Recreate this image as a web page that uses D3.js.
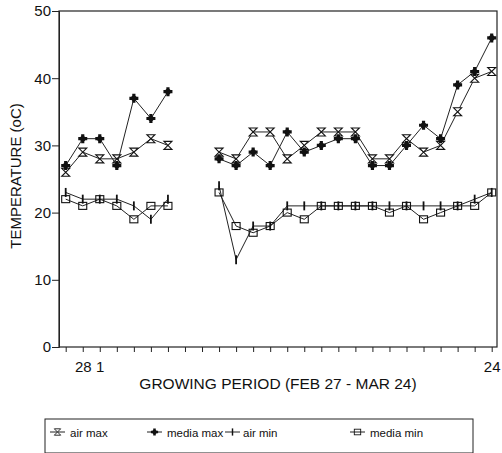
<!DOCTYPE html>
<html><head><meta charset="utf-8">
<script src="https://cdn.jsdelivr.net/npm/d3@7"></script>
<style>
html,body{margin:0;padding:0;background:#fff;}
text{font-family:"Liberation Sans",Arial,Helvetica,sans-serif;fill:#111;}
</style></head>
<body>
<svg id="c" width="502" height="453"></svg>
<script>
// day index 0..25 = Feb 27 .. Mar 24
const dayIndex = d3.range(0, 26);
const tickLabels = {1: "28", 2: "1", 25: "24"};
const yTicks = [0, 10, 20, 30, 40, 50];
const airMax   = [26,29,28,28,29,31,30,null,null,29,28,32,32,28,30,32,32,32,28,28,31,29,30,35,40,41];
const mediaMax = [27,31,31,27,37,34,38,null,null,28,27,29,27,32,29,30,31,31,27,27,30,33,31,39,41,46];
const airMin   = [23,22,22,22,21,19,22,null,null,24,13,18,18,21,21,21,21,21,21,21,21,21,21,21,22,23];
const mediaMin = [22,21,22,21,19,21,21,null,null,23,18,17,18,20,19,21,21,21,21,20,21,19,20,21,21,23];
const seriesNames = ["air max","media max","air min","media min"];

const svg = d3.select("#c");
const pL = 59, pR = 497, pT = 11, pB = 347;
const x = d3.scaleLinear().domain([0, 25]).range([65.7, 491.7]);
const y = d3.scaleLinear().domain([0, 50]).range([pB, pT]);

// frame
svg.append("rect").attr("x", pL).attr("y", pT).attr("width", pR-pL).attr("height", pB-pT)
  .attr("fill","none").attr("stroke","#222").attr("stroke-width",1.2);

// y axis
const ya = svg.append("g").attr("transform",`translate(${pL},0)`)
  .call(d3.axisLeft(y).tickValues(yTicks).tickSize(7).tickPadding(1).tickFormat(d3.format("d")));
ya.select(".domain").attr("stroke","#222");
ya.selectAll("line").attr("stroke","#222");
ya.selectAll("text").style("font-size","15px").attr("fill","#111");

// x axis
const xa = svg.append("g").attr("transform",`translate(0,${pB})`)
  .call(d3.axisBottom(x).tickValues(dayIndex).tickSize(5).tickPadding(9)
    .tickFormat(d => tickLabels[d] || ""));
xa.select(".domain").remove();
xa.selectAll("line").attr("stroke","#222");
xa.selectAll("text").style("font-size","15px").attr("fill","#111");

// titles
svg.append("text").attr("transform","translate(21,176) rotate(-90)").attr("text-anchor","middle")
  .style("font-size","15px").text("TEMPERATURE (oC)");
svg.append("text").attr("x",278).attr("y",389).attr("text-anchor","middle")
  .style("font-size","15.5px").text("GROWING PERIOD (FEB 27 - MAR 24)");

// marker painters
function hourglass(g){ g.append("path").attr("d","M-4,-4L4,-4L-4,4L4,4Z").attr("fill","#fff").attr("stroke","#111").attr("stroke-width",1.1); }
function bigPlus(g){
  g.append("path").attr("d","M-1.6,-4.5H1.6V-1.6H4.5V1.6H1.6V4.5H-1.6V1.6H-4.5V-1.6H-1.6Z").attr("fill","#111");
  g.append("circle").attr("r",2.8).attr("fill","#111");
}
function vbar(g){ g.append("line").attr("x1",0).attr("x2",0).attr("y1",-4.5).attr("y2",4.5).attr("stroke","#111").attr("stroke-width",1.8); }
function square(g){ g.append("rect").attr("x",-4).attr("y",-3.5).attr("width",8).attr("height",7).attr("fill","none").attr("stroke","#111").attr("stroke-width",1.1); }

const series = [
  {name: seriesNames[0], vals: airMax, mk: hourglass},
  {name: seriesNames[1], vals: mediaMax, mk: bigPlus},
  {name: seriesNames[2], vals: airMin, mk: vbar},
  {name: seriesNames[3], vals: mediaMin, mk: square}
];

const line = d3.line().defined(d => d.v != null).x(d => x(d.i)).y(d => y(d.v));
series.forEach(s => {
  const pts = s.vals.map((v,i) => ({i, v}));
  svg.append("path").datum(pts).attr("d", line).attr("fill","none").attr("stroke","#222").attr("stroke-width",1);
});
series.forEach(s => {
  s.vals.forEach((v,i) => {
    if (v == null) return;
    const g = svg.append("g").attr("transform",`translate(${x(i)},${y(v)})`);
    s.mk(g);
  });
});

// legend
svg.append("rect").attr("x",45).attr("y",419).attr("width",428).attr("height",34)
  .attr("fill","none").attr("stroke","#222").attr("stroke-width",1);
const legPos = [{sx:50, tx:70},{sx:147, tx:167},{sx:225, tx:243},{sx:350, tx:370}];
series.forEach((s,k) => {
  const p = legPos[k], ly = 432;
  svg.append("line").attr("x1",p.sx).attr("x2",p.sx+15).attr("y1",ly).attr("y2",ly).attr("stroke","#222");
  const g = svg.append("g").attr("transform",`translate(${p.sx+7.5},${ly}) scale(0.8)`);
  s.mk(g);
  svg.append("text").attr("x",p.tx).attr("y",ly+4.5).style("font-size","11.5px").text(s.name);
});
</script>
</body></html>
